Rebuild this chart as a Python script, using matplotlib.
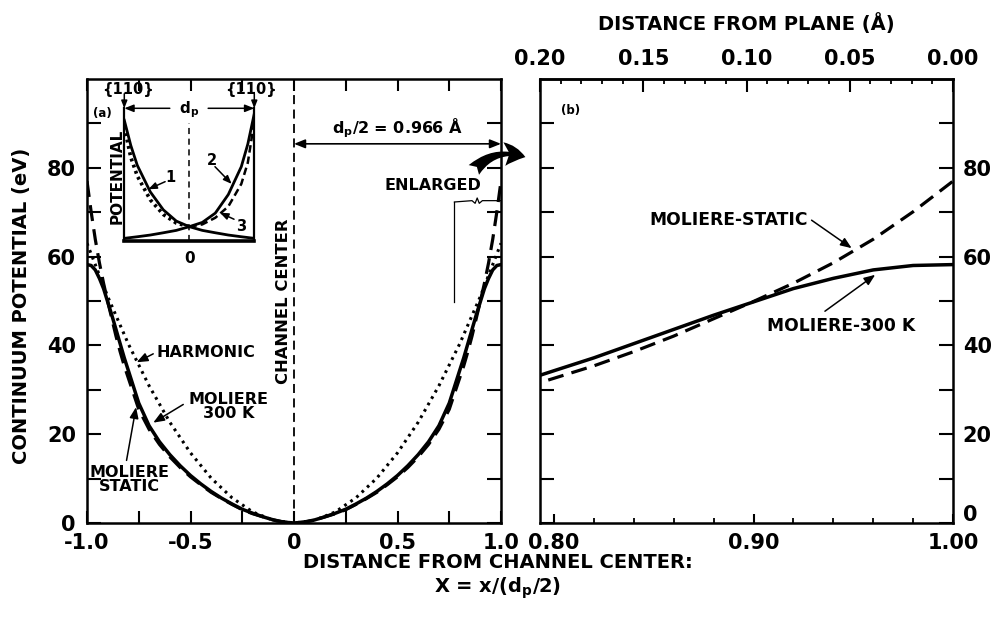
import matplotlib
matplotlib.use("Agg")
import matplotlib.pyplot as plt
from matplotlib.ticker import MultipleLocator, FixedLocator
from matplotlib.patches import FancyArrowPatch
from matplotlib.transforms import ScaledTranslation

plt.rcParams['font.family'] = ['DejaVu Sans']
plt.rcParams['font.weight'] = 'bold'
plt.rcParams['mathtext.fontset'] = 'dejavusans'

# ---------------- data ----------------
dp_half = 0.966  # Angstrom

x_grid = [-1.00, -0.98, -0.96, -0.94, -0.92, -0.90, -0.88, -0.86, -0.84, -0.82,
          -0.80, -0.75, -0.70, -0.65, -0.60, -0.55, -0.50, -0.45, -0.40, -0.35,
          -0.30, -0.25, -0.20, -0.15, -0.10, -0.05, 0.00,
          0.05, 0.10, 0.15, 0.20, 0.25, 0.30, 0.35, 0.40, 0.45, 0.50,
          0.55, 0.60, 0.65, 0.70, 0.75, 0.80, 0.82, 0.84, 0.86, 0.88,
          0.90, 0.92, 0.94, 0.96, 0.98, 1.00]

v_300K = [58.2, 58.0, 57.0, 55.1, 52.8, 49.8, 46.8, 43.6, 40.4, 37.2,
          34.3, 27.0, 21.9, 18.3, 15.4, 12.9, 10.7, 8.8, 7.1, 5.6,
          4.3, 3.1, 2.2, 1.4, 0.7, 0.2, 0.0,
          0.2, 0.7, 1.4, 2.2, 3.1, 4.3, 5.6, 7.1, 8.8, 10.7,
          12.9, 15.4, 18.3, 21.9, 27.0, 34.3, 37.2, 40.4, 43.6, 46.8,
          49.8, 52.8, 55.1, 57.0, 58.0, 58.2]

v_static = [77.0, 70.1, 63.9, 58.6, 54.0, 49.9, 46.0, 42.1, 38.6, 35.4,
            32.6, 25.6, 21.1, 17.7, 14.9, 12.5, 10.4, 8.6, 6.9, 5.5,
            4.2, 3.0, 2.1, 1.4, 0.7, 0.2, 0.0,
            0.2, 0.7, 1.4, 2.1, 3.0, 4.2, 5.5, 6.9, 8.6, 10.4,
            12.5, 14.9, 17.7, 21.1, 25.6, 32.6, 35.4, 38.6, 42.1, 46.0,
            49.9, 54.0, 58.6, 63.9, 70.1, 77.0]

x_harm = [-1.0, -0.9, -0.8, -0.7, -0.6, -0.5, -0.4, -0.3, -0.2, -0.1, 0.0,
          0.1, 0.2, 0.3, 0.4, 0.5, 0.6, 0.7, 0.8, 0.9, 1.0]
v_harm = [63.0, 51.0, 40.3, 30.9, 22.7, 15.8, 10.1, 5.7, 2.5, 0.6, 0.0,
          0.6, 2.5, 5.7, 10.1, 15.8, 22.7, 30.9, 40.3, 51.0, 63.0]

# inset (schematic potentials from the two planes)
inset_u = [-1.0, -0.9, -0.8, -0.6, -0.4, -0.2, 0.0, 0.2, 0.4, 0.6, 0.8, 0.9, 1.0]
inset_c1 = [0.91, 0.72, 0.57, 0.37, 0.235, 0.15, 0.108, 0.08, 0.062, 0.045, 0.032, 0.026, 0.02]
inset_c2 = [0.02, 0.026, 0.032, 0.045, 0.062, 0.08, 0.108, 0.14, 0.21, 0.35, 0.56, 0.73, 0.96]
inset_u_left = [-1.0, -0.9, -0.8, -0.6, -0.4, -0.2, 0.0]
inset_c3_left = [0.86, 0.63, 0.49, 0.31, 0.20, 0.135, 0.108]
inset_u_right = [0.0, 0.2, 0.4, 0.6, 0.8, 0.9, 1.0]
inset_c3_right = [0.108, 0.125, 0.175, 0.26, 0.43, 0.59, 0.90]

# "enlarged" bracket
brk_x = [0.775, 0.86, 0.875, 0.885, 0.895, 0.91, 1.0]
brk_v = [72.3, 72.6, 72.0, 73.2, 72.0, 72.6, 72.6]

left_xticks = [-1.0, -0.5, 0.0, 0.5, 1.0]
left_xlabels = ['-1.0', '-0.5', '0', '0.5', '1.0']
right_xticks = [0.80, 0.90, 1.00]
right_xlabels = ['0.80', '0.90', '1.00']
top_ticks = [0.20, 0.15, 0.10, 0.05, 0.00]
top_labels = ['0.20', '0.15', '0.10', '0.05', '0.00']
y_ticks = [0, 20, 40, 60, 80]

# ---------------- figure ----------------
fig = plt.figure(figsize=(9.95, 6.21), dpi=100)
W, H = 995.0, 621.0
axL = fig.add_axes([87 / W, 1 - 523 / H, 414 / W, 444 / H])
axR = fig.add_axes([540 / W, 1 - 523 / H, 413 / W, 444 / H])

for ax in (axL, axR):
    for s in ax.spines.values():
        s.set_linewidth(1.8)
    ax.set_ylim(0, 100)
    ax.set_yticks(y_ticks)
    ax.yaxis.set_minor_locator(FixedLocator([10, 30, 50, 70, 90]))

dashed = (0, (5, 2.6))
dotted = (0, (0.9, 1.5))
ann_kw = dict(arrowstyle='-|>,head_length=0.55,head_width=0.22', lw=1.1,
              color='k', shrinkA=0, shrinkB=0, mutation_scale=12)

# ----- left panel -----
axL.plot(x_grid, v_static, color='k', lw=2.3, ls=dashed)
axL.plot(x_grid, v_300K, color='k', lw=2.5)
axL.plot(x_harm, v_harm, color='k', lw=2.2, ls=dotted)
axL.axvline(0, color='k', lw=1.3, ls=(0, (5, 3)))
axL.set_xlim(-1, 1)
axL.set_xticks(left_xticks)
axL.set_xticklabels(left_xlabels)
axL.xaxis.set_minor_locator(FixedLocator([-0.75, -0.25, 0.25, 0.75]))
axL.tick_params(axis='both', which='both', direction='in', width=1.5,
                top=True, right=True, labelsize=15)
axL.tick_params(axis='y', which='both', length=10, pad=8)
axL.tick_params(axis='x', which='both', length=8.5, pad=7)

fs_ann = 11.5
axL.text(-0.664, 38.5, 'HARMONIC', fontsize=fs_ann, ha='left', va='center')
axL.annotate('', xy=(-0.760, 36.2), xytext=(-0.680, 38.1), arrowprops=ann_kw)
axL.text(-0.317, 26.3, 'MOLIERE\n300 K', fontsize=fs_ann, ha='center', va='center',
         linespacing=0.95)
axL.annotate('', xy=(-0.680, 22.6), xytext=(-0.535, 26.7), arrowprops=ann_kw)
axL.text(-0.795, 9.8, 'MOLIERE\nSTATIC', fontsize=fs_ann, ha='center', va='center',
         linespacing=0.95)
axL.annotate('', xy=(-0.763, 26.1), xytext=(-0.809, 14.1), arrowprops=ann_kw)
axL.text(-0.926, 92.2, '(a)', fontsize=8.5, ha='center', va='center')
axL.text(-0.05, 50.0, 'CHANNEL CENTER', fontsize=11.8, rotation=90,
         ha='center', va='center')
axL.annotate('', xy=(1.0, 85.4), xytext=(0.0, 85.4),
             arrowprops=dict(arrowstyle='<|-|>,head_length=0.55,head_width=0.22',
                             lw=1.2, color='k', shrinkA=0, shrinkB=0,
                             mutation_scale=12))
axL.text(0.50, 88.9, r'd$_\mathbf{p}$/2 = 0.966 Å', fontsize=11.5,
         ha='center', va='center')
axL.text(0.67, 76.0, 'ENLARGED', fontsize=11.5, ha='center', va='center')
axL.plot(brk_x, brk_v, color='k', lw=0.9)
axL.plot([brk_x[0], brk_x[0]], [49.7, brk_v[0]], color='k', lw=0.9)

# ----- inset -----
axI = fig.add_axes([124.3 / W, 1 - 241 / H, 130 / W, 132.7 / H])
axI.set_facecolor('none')
axI.set_xlim(-1, 1)
axI.set_ylim(0, 1)
axI.set_xticks([])
axI.set_yticks([])
axI.spines['top'].set_visible(False)
axI.spines['left'].set_linewidth(1.6)
axI.spines['right'].set_linewidth(1.6)
axI.spines['bottom'].set_linewidth(2.6)
axI.plot(inset_u_left, inset_c3_left, color='k', lw=2.6, ls=(0, (0.8, 1.0)))
axI.plot(inset_u_right, inset_c3_right, color='k', lw=1.8, ls=(0, (3, 1.6)))
axI.plot(inset_u, inset_c1, color='k', lw=2.0)
axI.plot(inset_u, inset_c2, color='k', lw=2.0)
axI.plot([0, 0], [0, 0.89], color='k', lw=1.1, ls=(0, (4, 3)))
axI.text(0, -0.13, '0', fontsize=11, ha='center', va='center', clip_on=False)
axI.text(-1.115, 0.485, 'POTENTIAL', fontsize=11, rotation=90,
         ha='center', va='center', clip_on=False)
axI.text(-0.297, 0.475, '1', fontsize=10.5, ha='center', va='center')
axI.annotate('', xy=(-0.63, 0.39), xytext=(-0.372, 0.447),
             arrowprops=dict(ann_kw, mutation_scale=9))
axI.text(0.345, 0.61, '2', fontsize=10.5, ha='center', va='center')
axI.annotate('', xy=(0.652, 0.43), xytext=(0.395, 0.56),
             arrowprops=dict(ann_kw, mutation_scale=9))
axI.text(0.80, 0.108, '3', fontsize=10.5, ha='center', va='center')
axI.annotate('', xy=(0.472, 0.213), xytext=(0.688, 0.164),
             arrowprops=dict(ann_kw, mutation_scale=9))
axI.text(-0.95, 1.138, '{110}', fontsize=10.5, ha='center', va='center', clip_on=False)
axI.text(0.95, 1.138, '{110}', fontsize=10.5, ha='center', va='center', clip_on=False)
axI.annotate('', xy=(-1.0, 1.0), xytext=(-1.0, 1.11),
             arrowprops=dict(ann_kw, mutation_scale=8), annotation_clip=False)
axI.annotate('', xy=(1.0, 1.0), xytext=(1.0, 1.11),
             arrowprops=dict(ann_kw, mutation_scale=8), annotation_clip=False)
axI.text(0.0, 0.99, r'd$_\mathbf{p}$', fontsize=11, ha='center', va='center', clip_on=False)
axI.annotate('', xy=(-1.0, 1.0), xytext=(-0.30, 1.0),
             arrowprops=dict(ann_kw, mutation_scale=10), annotation_clip=False)
axI.annotate('', xy=(1.0, 1.0), xytext=(0.29, 1.0),
             arrowprops=dict(ann_kw, mutation_scale=10), annotation_clip=False)

# ----- right panel -----
axR.plot(x_grid, v_static, color='k', lw=2.3, ls=dashed)
axR.plot(x_grid, v_300K, color='k', lw=2.5)
axR.set_xlim(1 - 0.2 / dp_half, 1.0)
axR.set_xticks(right_xticks)
axR.set_xticklabels(right_xlabels)
axR.xaxis.set_minor_locator(MultipleLocator(0.02))
axR.tick_params(axis='x', which='major', direction='in', length=6.5, width=1.5,
                top=False, labelsize=15, pad=7)
axR.tick_params(axis='x', which='minor', direction='in', length=3.5, width=1.3,
                top=False)
axR.tick_params(axis='y', which='both', direction='in', length=10, width=1.5,
                left=True, right=True, labelleft=False, labelright=True,
                labelsize=15, pad=7)
# lift the "0" label on the right a little (as in the original)
zero_lab = axR.yaxis.get_major_ticks()[0].label2
zero_lab.set_transform(zero_lab.get_transform() +
                       ScaledTranslation(0, 7 / 72, fig.dpi_scale_trans))

sec = axR.secondary_xaxis('top', functions=(lambda X: (1 - X) * dp_half,
                                            lambda d: 1 - d / dp_half))
sec.set_xticks(top_ticks)
sec.set_xticklabels(top_labels)
sec.xaxis.set_minor_locator(MultipleLocator(0.01))
sec.tick_params(axis='x', which='major', direction='in', length=9, width=1.5,
                labelsize=15, pad=7)
sec.tick_params(axis='x', which='minor', direction='in', length=3.5, width=1.3)
sec.spines['top'].set_linewidth(1.8)

fs_r = 12.3
axR.text(0.8085, 93.0, '(b)', fontsize=8.5, ha='center', va='center')
axR.text(0.9273, 68.2, 'MOLIERE-STATIC', fontsize=fs_r, ha='right', va='center')
axR.annotate('', xy=(0.9492, 61.9), xytext=(0.9291, 68.2), arrowprops=ann_kw)
axR.text(0.9439, 44.3, 'MOLIERE-300 K', fontsize=fs_r, ha='center', va='center')
axR.annotate('', xy=(0.961, 55.9), xytext=(0.9358, 47.7), arrowprops=ann_kw)

# big curved arrow toward panel (b)
big = FancyArrowPatch((472 / W, 1 - 172 / H), (528 / W, 1 - 158 / H),
                      transform=fig.transFigure,
                      connectionstyle='arc3,rad=-0.35',
                      arrowstyle='fancy,head_length=0.9,head_width=1.0,tail_width=0.6',
                      mutation_scale=17, color='k', lw=0)
fig.patches.append(big)

# axis titles
fig.text(22 / W, 0.508, 'CONTINUUM POTENTIAL (eV)', fontsize=14, rotation=90,
         ha='center', va='center')
fig.text(0.5, 1 - 562 / H, 'DISTANCE FROM CHANNEL CENTER:', fontsize=14,
         ha='center', va='center')
fig.text(0.5, 1 - 588 / H, r'X = x/(d$_\mathbf{p}$/2)', fontsize=14,
         ha='center', va='center')
fig.text(746 / W, 1 - 24 / H, 'DISTANCE FROM PLANE (Å)', fontsize=14,
         ha='center', va='center')

fig.savefig('out.png', dpi=100)
